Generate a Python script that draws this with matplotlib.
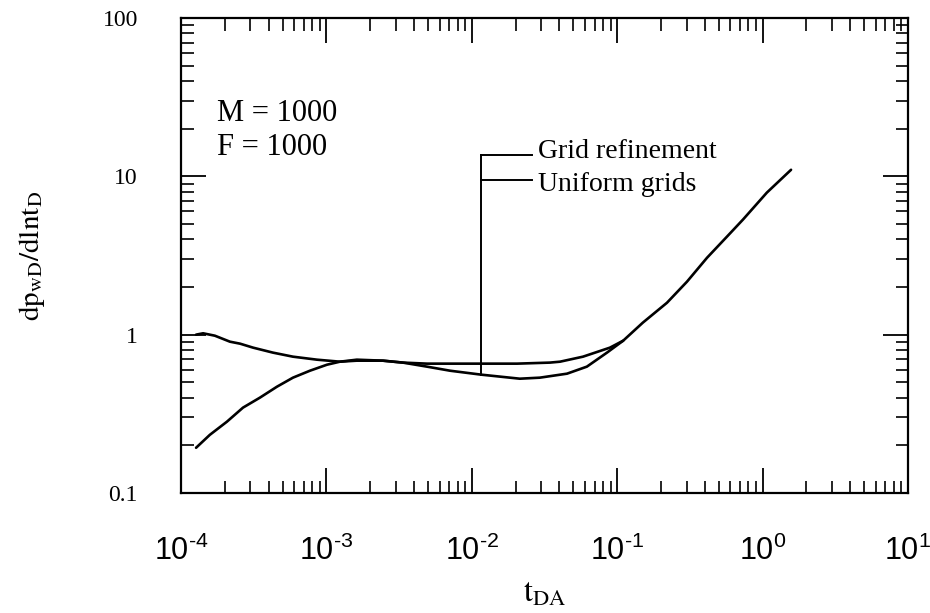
import matplotlib
matplotlib.use("Agg")
import matplotlib.pyplot as plt
from matplotlib.ticker import FixedLocator, LogLocator, NullFormatter

plt.rcParams['mathtext.fontset'] = 'custom'
plt.rcParams['mathtext.rm'] = 'Liberation Sans'
plt.rcParams['mathtext.it'] = 'Liberation Sans:italic'

# curve: starts near 1, dips, then rises
t_upper = [1.27e-4, 1.42e-4, 1.71e-4, 2.17e-4, 2.55e-4, 3.13e-4, 4.29e-4, 5.89e-4,
           8.61e-4, 1.24e-3, 1.62e-3, 2.45e-3, 3.36e-3, 4.92e-3, 7.08e-3, 1.16e-2,
           2.05e-2, 3.45e-2, 4.05e-2, 5.82e-2, 8.92e-2, 0.110, 0.150, 0.220, 0.302,
           0.415, 0.569, 0.733, 1.07, 1.57]
v_upper = [1.00, 1.02, 0.985, 0.903, 0.877, 0.828, 0.770, 0.726,
           0.695, 0.675, 0.685, 0.685, 0.666, 0.656, 0.656, 0.656,
           0.656, 0.666, 0.675, 0.726, 0.828, 0.916, 1.19, 1.59, 2.16,
           3.06, 4.16, 5.33, 7.89, 11.0]

# curve starting low at 0.19
t_lower = [1.27e-4, 1.58e-4, 2.07e-4, 2.67e-4, 3.49e-4, 4.57e-4, 5.89e-4, 7.71e-4,
           1.01e-3, 1.24e-3, 1.62e-3, 2.45e-3, 3.36e-3, 4.92e-3, 7.08e-3, 1.16e-2,
           2.14e-2, 2.94e-2, 4.52e-2, 6.19e-2, 8.51e-2, 0.110]
v_lower = [0.193, 0.233, 0.282, 0.346, 0.400, 0.469, 0.535, 0.592,
           0.646, 0.675, 0.695, 0.685, 0.666, 0.628, 0.592, 0.559,
           0.527, 0.535, 0.567, 0.628, 0.770, 0.916]

x_ticks = [1e-4, 1e-3, 1e-2, 1e-1, 1e0, 1e1]
x_labels = [r'$10^{\text{-}4}$', r'$10^{\text{-}3}$', r'$10^{\text{-}2}$',
            r'$10^{\text{-}1}$', '$10^{0}$', '$10^{1}$']
y_ticks = [0.1, 1, 10, 100]
y_labels = ['0.1', '1', '10', '100']

serif = 'Liberation Serif'

fig = plt.figure(figsize=(9.3, 6.13), dpi=100)
ax = fig.add_axes([0.1946, 0.1958, 0.7817, 0.7748])

ax.plot(t_upper, v_upper, color='k', lw=1.9, solid_capstyle='round')
ax.plot(t_lower, v_lower, color='k', lw=1.9, solid_capstyle='round')

# leader lines for the labels
t_lead, t_lead_end = 1.16e-2, 2.59e-2
v_grid, v_unif = 13.7, 9.5
ax.plot([t_lead, t_lead], [v_grid, 0.559], color='k', lw=1.4)
ax.plot([t_lead, t_lead_end], [v_grid, v_grid], color='k', lw=1.4)
ax.plot([t_lead, t_lead_end], [v_unif, v_unif], color='k', lw=1.4)
ax.text(2.85e-2, 14.4, 'Grid refinement', family=serif, fontsize=20, va='center')
ax.text(2.85e-2, 8.9, 'Uniform grids', family=serif, fontsize=20, va='center')

ax.text(0.05, 0.80, 'M = 1000', transform=ax.transAxes, family=serif, fontsize=22, va='center')
ax.text(0.05, 0.728, 'F = 1000', transform=ax.transAxes, family=serif, fontsize=22, va='center')

ax.set_xscale('log')
ax.set_yscale('log')
ax.set_xlim(1e-4, 10)
ax.set_ylim(0.1, 100)

ax.xaxis.set_major_locator(FixedLocator(x_ticks))
ax.set_xticklabels(x_labels, fontsize=22)
ax.yaxis.set_major_locator(FixedLocator(y_ticks))
ax.set_yticklabels(y_labels, family=serif, fontsize=17)
ax.xaxis.set_minor_locator(LogLocator(base=10, subs=range(2, 10), numticks=20))
ax.yaxis.set_minor_locator(LogLocator(base=10, subs=range(2, 10), numticks=20))
ax.xaxis.set_minor_formatter(NullFormatter())
ax.yaxis.set_minor_formatter(NullFormatter())

ax.tick_params(which='both', direction='in', top=True, right=True, color='k')
ax.tick_params(which='major', length=18, width=1.3)
ax.tick_params(which='minor', length=9, width=1.2)
ax.tick_params(axis='x', which='major', pad=30)
ax.tick_params(axis='y', which='major', pad=31)

for s in ax.spines.values():
    s.set_linewidth(1.6)

ax.set_xlabel(r'$\mathrm{t_{DA}}$', fontsize=23, math_fontfamily='stix', labelpad=8)
ax.set_ylabel(r'$\mathrm{dp_{wD}/dlnt_D}$', fontsize=21, math_fontfamily='stix', labelpad=40)

fig.savefig('out.png', dpi=100)
